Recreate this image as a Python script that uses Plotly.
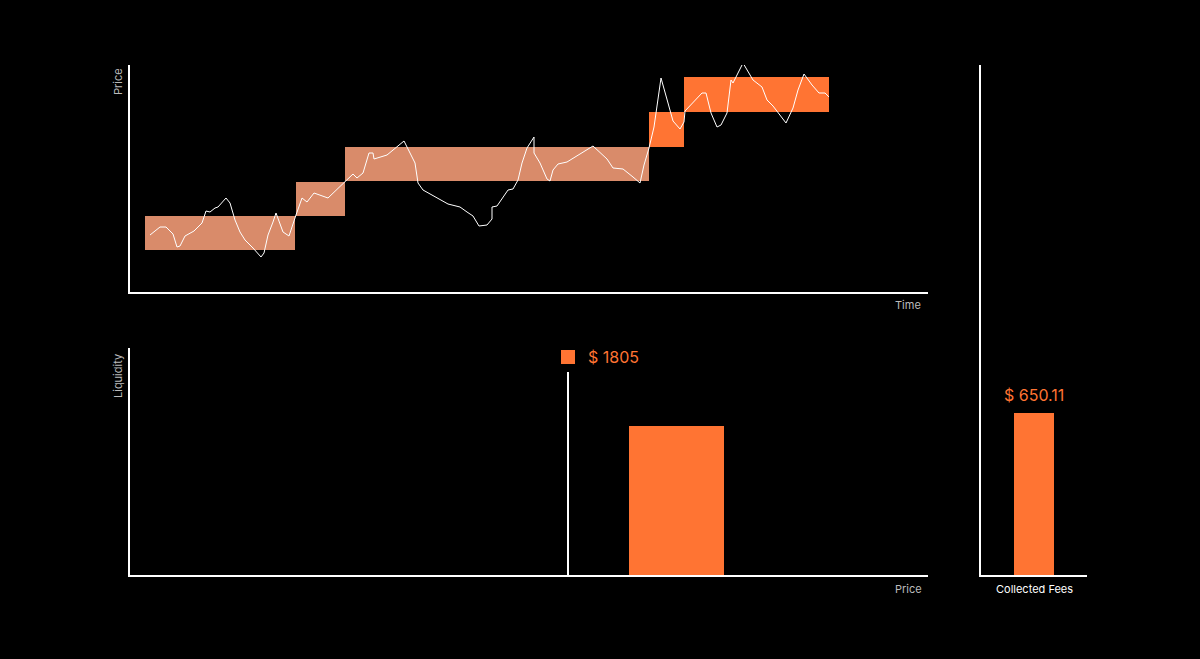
import plotly.graph_objects as go

# price path (time, price); price axis runs top-down
time = [150, 160, 166, 173, 177, 180, 185, 190, 194, 202, 206, 210, 215, 218, 226, 230, 235, 240, 245, 253,
        261, 264, 268, 273, 276, 283, 289, 296, 302, 307, 314, 328, 345, 353, 357, 363, 369, 373, 374, 387,
        404, 415, 418, 423, 448, 460, 467, 473, 479, 487, 492, 492, 497, 508, 513, 518, 522, 527, 534, 534,
        540, 547, 550, 553, 558, 567, 593, 600, 607, 613, 623, 633, 640, 644, 649, 654, 661, 668, 673, 680,
        684, 685, 692, 702, 706, 711, 717, 721, 727, 731, 733, 743, 753, 762, 767, 773, 786, 793, 798, 804,
        812, 819, 825, 829]
price = [235, 227, 227, 234, 247, 246, 236, 233, 231, 223, 211, 212, 208, 207, 198, 203, 220, 232, 240, 248,
         257, 253, 235, 222, 213, 232, 236, 215, 198, 202, 193, 198, 181, 174, 178, 173, 153, 153, 159, 155,
         141, 163, 183, 190, 204, 207, 212, 216, 226, 225, 219, 207, 206, 190, 189, 180, 163, 148, 137, 153,
         163, 179, 181, 170, 164, 162, 146, 153, 159, 168, 169, 177, 183, 165, 148, 127, 78, 103, 121, 129,
         122, 111, 104, 93, 93, 113, 127, 125, 113, 80, 83, 63, 80, 87, 100, 106, 123, 108, 90, 74,
         85, 93, 93, 97]

# liquidity positions: time start/end, price low/high
pos_t0 = [145, 296, 345, 649, 684]
pos_t1 = [295, 345, 649, 684, 829]
pos_lo = [250, 216, 181, 147, 112]
pos_hi = [216, 182, 147, 112, 77]
pos_col = ["#D98B6A", "#D98B6A", "#D98B6A", "#FF7433", "#FF7433"]

current_price = 568
current_label = "$ 1805"
liq_center = 676.5
liq_width = 95
liq_value = 149
fees = 162
fees_label = "$ 650.11"

ORANGE = "#FF7433"
W, H = 1200, 659

def xd(a, b):
    return [a / W, b / W]

def yd(top, bottom):
    return [1 - bottom / H, 1 - top / H]

fig = go.Figure()
fig.add_trace(go.Scatter(x=time, y=price, mode="lines", line=dict(color="white", width=1),
                         xaxis="x", yaxis="y", showlegend=False, hoverinfo="skip"))
for a, b, lo, hi, c in zip(pos_t0, pos_t1, pos_lo, pos_hi, pos_col):
    fig.add_shape(type="rect", x0=a, x1=b, y0=lo, y1=hi, xref="x", yref="y",
                  fillcolor=c, line=dict(width=0), layer="below")

fig.add_trace(go.Bar(x=[liq_center], y=[liq_value], width=[liq_width], marker=dict(color=ORANGE, line_width=0),
                     xaxis="x2", yaxis="y2", showlegend=False))
fig.add_trace(go.Scatter(x=[current_price, current_price], y=[0, 203], mode="lines",
                         line=dict(color="white", width=2), xaxis="x2", yaxis="y2", showlegend=False))
fig.add_trace(go.Scatter(x=[current_price], y=[218], mode="markers", cliponaxis=False,
                         marker=dict(symbol="square", size=14, color=ORANGE),
                         xaxis="x2", yaxis="y2", showlegend=False))
fig.add_annotation(text=current_label, x=current_price + 18, y=218, xref="x2", yref="y2",
                   xanchor="left", yanchor="middle", showarrow=False, font=dict(color=ORANGE, size=16))

fig.add_trace(go.Bar(x=[1034], y=[fees], width=[40], marker=dict(color=ORANGE, line_width=0),
                     xaxis="x3", yaxis="y3", showlegend=False))
fig.add_annotation(text=fees_label, x=1034, y=fees + 18, xref="x3", yref="y3",
                   xanchor="center", yanchor="middle", showarrow=False, font=dict(color=ORANGE, size=16))

ax = dict(showline=True, linecolor="white", linewidth=2, showgrid=False, zeroline=False,
          showticklabels=False, ticks="", fixedrange=True)
fig.update_layout(
    width=W, height=H, margin=dict(l=0, r=0, t=0, b=0),
    paper_bgcolor="black", plot_bgcolor="black",
    xaxis=dict(ax, domain=xd(130, 928), range=[130, 928], anchor="y"),
    yaxis=dict(ax, domain=yd(65, 292), range=[292, 65], anchor="x"),
    xaxis2=dict(ax, domain=xd(130, 928), range=[130, 928], anchor="y2"),
    yaxis2=dict(ax, domain=yd(348, 575), range=[0, 227], anchor="x2"),
    xaxis3=dict(ax, domain=xd(981, 1087), range=[981, 1087], anchor="y3"),
    yaxis3=dict(ax, domain=yd(65, 575), range=[0, 510], anchor="x3"),
    font=dict(family="Inter", color="#bbbbbb", size=11),
)

labels = [
    ("Price", 118, 82, 90),
    ("Time", 908, 305, 0),
    ("Liquidity", 118, 376, 90),
    ("Price", 908, 589, 0),
    ("Collected Fees", 1034, 589, 0),
]
for t, x, y, ang in labels:
    fig.add_annotation(text=t, x=x / W, y=1 - y / H, xref="paper", yref="paper",
                       xanchor="center", yanchor="middle",
                       showarrow=False, textangle=-ang if ang else 0,
                       font=dict(size=11, color="#bbbbbb" if t != "Collected Fees" else "white"))

fig.write_html("out.html", config={"displayModeBar": False},
               post_script="document.body.style.margin='0';document.body.style.background='black';")
